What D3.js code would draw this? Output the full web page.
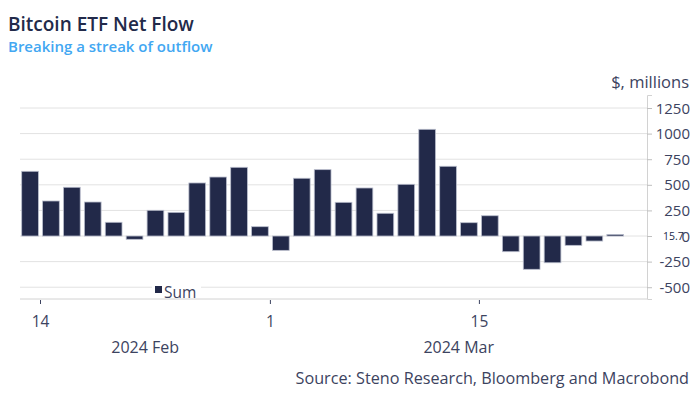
<!DOCTYPE html>
<html>
<head>
<meta charset="utf-8">
<script src="https://cdn.jsdelivr.net/npm/d3@7"></script>
<style>
  body { margin: 0; background: #fff; }
  svg text { font-family: "Open Sans", sans-serif; }
</style>
</head>
<body>
<div id="chart"></div>
<script>
// trading days, Feb 13 - Mar 25 2024
const dates = ["2024-02-13", "2024-02-14", "2024-02-15", "2024-02-16", "2024-02-20", "2024-02-21",
  "2024-02-22", "2024-02-23", "2024-02-26", "2024-02-27", "2024-02-28", "2024-02-29",
  "2024-03-01", "2024-03-04", "2024-03-05", "2024-03-06", "2024-03-07", "2024-03-08",
  "2024-03-11", "2024-03-12", "2024-03-13", "2024-03-14", "2024-03-15", "2024-03-18",
  "2024-03-19", "2024-03-20", "2024-03-21", "2024-03-22", "2024-03-25"];
const flows = [632, 342, 476, 332, 134, -32, 251, 231, 518, 576, 671, 91, -140, 564, 648,
  329, 469, 222, 505, 1042, 681, 130, 198, -153, -325, -261, -91, -49, 15.7];
const yTicks = [-500, -250, 0, 250, 500, 750, 1000, 1250];
const xTickDates = ["2024-02-14", "2024-03-01", "2024-03-15"];
const monthLabels = ["2024 Feb", "2024 Mar"];
const lastLabel = "15.7";

const width = 700, height = 400;
const plotLeft = 20, plotRight = 647, plotTop = 95, plotBottom = 299;

const svg = d3.select("#chart").append("svg")
    .attr("width", width)
    .attr("height", height);

const x = d3.scaleBand()
    .domain(dates)
    .range([19.6, 625.7])
    .paddingInner(0.2)
    .paddingOuter(0.1);

const y = d3.scaleLinear()
    .domain([-615, 1377])
    .range([plotBottom, plotTop]);

// left edge of a day's cell
const cellStart = d => x(d) - x.step() * x.paddingOuter();

// title
svg.append("text")
    .attr("x", 8).attr("y", 31)
    .attr("font-size", 19).attr("font-weight", 600)
    .attr("fill", "#222a4a")
    .text("Bitcoin ETF Net Flow");

svg.append("text")
    .attr("x", 8).attr("y", 52)
    .attr("font-size", 15).attr("font-weight", 600)
    .attr("fill", "#42a7f2")
    .text("Breaking a streak of outflow");

// grid
svg.append("g")
    .selectAll("line")
    .data(yTicks)
    .enter()
    .append("line")
    .attr("x1", plotLeft).attr("x2", plotRight)
    .attr("y1", d => y(d)).attr("y2", d => y(d))
    .attr("stroke", "#e2e2e2");

// bars
svg.append("g")
    .selectAll("rect")
    .data(flows)
    .enter()
    .append("rect")
    .attr("x", (d, i) => x(dates[i]))
    .attr("y", d => y(Math.max(0, d)))
    .attr("width", x.bandwidth())
    .attr("height", d => Math.abs(y(d) - y(0)))
    .attr("fill", "#222949")
    .attr("stroke", "#b9bdcc")
    .attr("stroke-width", 0.8);

// y axis on the right
const yAxis = svg.append("g")
    .attr("transform", `translate(${plotRight},0)`)
    .call(d3.axisRight(y).tickValues(yTicks).tickSize(5).tickPadding(0).tickFormat(""));
yAxis.select(".domain").attr("stroke", "#d2d2d2");
yAxis.selectAll(".tick line").attr("stroke", "#bfbfbf");

svg.append("g")
    .selectAll("text")
    .data(yTicks)
    .enter()
    .append("text")
    .attr("x", 690)
    .attr("y", d => y(d) + 5.5)
    .attr("text-anchor", "end")
    .attr("font-size", 15)
    .attr("fill", "#3c4360")
    .text(d => d);

svg.append("text")
    .attr("x", 663).attr("y", y(0) + 4)
    .attr("font-size", 10.5)
    .attr("fill", "#222a4a")
    .text(lastLabel);

svg.append("text")
    .attr("x", 689).attr("y", 88)
    .attr("text-anchor", "end")
    .attr("font-size", 16.5)
    .attr("fill", "#3c4360")
    .text("$, millions");

// x axis
svg.append("line")
    .attr("x1", plotLeft).attr("x2", plotRight)
    .attr("y1", plotBottom).attr("y2", plotBottom)
    .attr("stroke", "#d2d2d2");

svg.append("g")
    .selectAll("line")
    .data(xTickDates)
    .enter()
    .append("line")
    .attr("x1", d => cellStart(d)).attr("x2", d => cellStart(d))
    .attr("y1", plotBottom + 1).attr("y2", plotBottom + 5)
    .attr("stroke", "#3c4360");

svg.append("g")
    .selectAll("text")
    .data(xTickDates)
    .enter()
    .append("text")
    .attr("x", d => cellStart(d))
    .attr("y", 327)
    .attr("text-anchor", "middle")
    .attr("font-size", 15.5)
    .attr("fill", "#3c4360")
    .text(d => +d.slice(8));

// month labels centred on each month's visible span
const monthStart = cellStart(xTickDates[1]);
const monthCentres = [(plotLeft + monthStart) / 2, (monthStart + plotRight) / 2];
svg.append("g")
    .selectAll("text")
    .data(monthLabels)
    .enter()
    .append("text")
    .attr("x", (d, i) => monthCentres[i])
    .attr("y", 353)
    .attr("text-anchor", "middle")
    .attr("font-size", 16)
    .attr("fill", "#3c4360")
    .text(d => d);

// legend
const legend = svg.append("g").attr("transform", "translate(152,282)");
legend.append("rect")
    .attr("x", 0).attr("y", 0).attr("width", 49).attr("height", 16)
    .attr("fill", "#fff");
legend.append("rect")
    .attr("x", 3).attr("y", 4).attr("width", 7).attr("height", 7)
    .attr("fill", "#222949");
legend.append("text")
    .attr("x", 12).attr("y", 16)
    .attr("font-size", 15.5)
    .attr("fill", "#3c4360")
    .text("Sum");

// source
svg.append("text")
    .attr("x", 689).attr("y", 384)
    .attr("text-anchor", "end")
    .attr("font-size", 16.2)
    .attr("fill", "#3c4360")
    .text("Source: Steno Research, Bloomberg and Macrobond");
</script>
</body>
</html>
